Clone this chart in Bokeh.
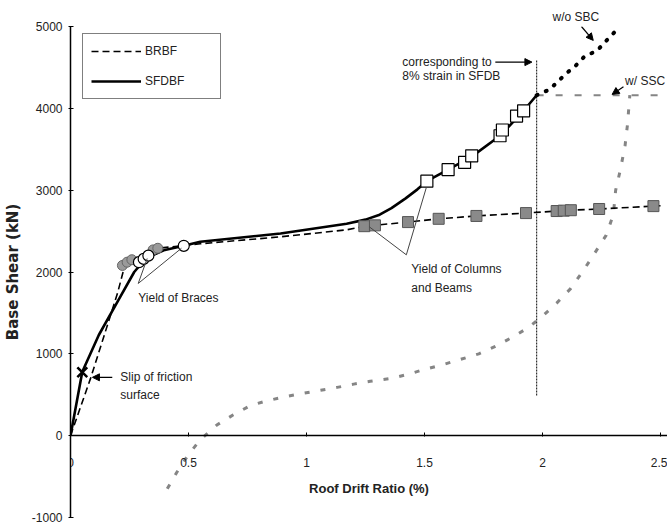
from bokeh.plotting import figure
from bokeh.models import Label, Arrow, NormalHead, FixedTicker, Legend, LegendItem
from bokeh.embed import file_html
from bokeh.resources import INLINE

# ---------------- data ----------------
x_ticks = [0.0, 0.5, 1.0, 1.5, 2.0, 2.5]
x_tick_labels = ["0", "0.5", "1", "1.5", "2", "2.5"]
y_ticks = [-1000, 0, 1000, 2000, 3000, 4000, 5000]
y_tick_labels = ["-1000", "0", "1000", "2000", "3000", "4000", "5000"]

# BRBF pushover (dashed)
brbf_x = [0.0, 0.085, 0.14, 0.20, 0.23, 0.26, 0.37, 0.55, 0.89, 1.17, 1.25, 1.43, 1.56, 1.72, 1.93, 2.06, 2.12, 2.24, 2.47, 2.50]
brbf_y = [0, 700, 1200, 1750, 2080, 2150, 2290, 2345, 2430, 2515, 2560, 2610, 2650, 2685, 2720, 2745, 2755, 2770, 2805, 2810]
# BRBF yield of braces (grey circles) and yield of columns/beams (grey squares)
brbf_brace_x = [0.22, 0.24, 0.26, 0.35, 0.37]
brbf_brace_y = [2080, 2120, 2150, 2270, 2290]
brbf_col_x = [1.245, 1.29, 1.43, 1.56, 1.72, 1.93, 2.06, 2.09, 2.12, 2.24, 2.47]
brbf_col_y = [2560, 2570, 2610, 2650, 2685, 2720, 2745, 2750, 2755, 2770, 2805]

# SFDBF pushover (solid)
sfdbf_x = [0.0, 0.05, 0.12, 0.20, 0.27, 0.32, 0.40, 0.48, 0.55, 0.89, 1.17, 1.25, 1.31, 1.36, 1.42, 1.47, 1.51, 1.60, 1.70, 1.82, 1.92, 1.975]
sfdbf_y = [0, 780, 1230, 1640, 2000, 2170, 2270, 2320, 2370, 2470, 2590, 2640, 2700, 2780, 2900, 3010, 3110, 3250, 3410, 3665, 3970, 4160]
sfdbf_brace_x = [0.29, 0.31, 0.33, 0.48]
sfdbf_brace_y = [2120, 2160, 2200, 2320]
sfdbf_col_x = [1.51, 1.60, 1.67, 1.70, 1.82, 1.83, 1.89, 1.92]
sfdbf_col_y = [3110, 3250, 3340, 3420, 3665, 3735, 3905, 3970]
slip_x = [0.05]
slip_y = [775]

# beyond 8% strain: without SBC (black dots)
wo_sbc_x = [1.975, 2.03, 2.10, 2.14, 2.18, 2.23, 2.27, 2.31]
wo_sbc_y = [4160, 4230, 4425, 4520, 4640, 4700, 4825, 4945]
# with SSC (grey)
w_ssc_cap_x = [1.975, 2.50]
w_ssc_cap_y = [4160, 4160]
w_ssc_x = [0.41, 0.45, 0.50, 0.55, 0.62, 0.69, 0.76, 0.83, 0.90, 0.99, 1.06, 1.13, 1.20, 1.27, 1.36,
           1.43, 1.50, 1.58, 1.65, 1.73, 1.80, 1.87, 1.94, 2.00, 2.06, 2.12, 2.17, 2.22, 2.27, 2.30,
           2.31, 2.33, 2.35, 2.36, 2.365, 2.37]
w_ssc_y = [-650, -450, -230, -50, 130, 255, 365, 425, 470, 520, 555, 590, 630, 665, 700,
           750, 810, 870, 930, 1000, 1090, 1200, 1320, 1460, 1620, 1800, 2005, 2225, 2450, 2700,
           3000, 3250, 3550, 3800, 3980, 4160]

# 8% strain marker line
strain_x = [1.975, 1.975]
strain_y = [490, 4590]

# callout lines
braces_call_x = [0.325, 0.287, 0.47]
braces_call_y = [2165, 1860, 2290]
cols_call_x = [1.267, 1.423, 1.508]
cols_call_y = [2550, 2210, 3035]

FONT = "Liberation Sans"
TXT = "#222222"

p = figure(width=667, height=526, x_range=(0, 2.5296), y_range=(-1000, 5000),
           output_backend="svg", toolbar_location=None,
           min_border_left=68, min_border_right=0, min_border_top=26, min_border_bottom=9)
p.outline_line_color = None
p.xgrid.visible = False
p.ygrid.visible = False
p.background_fill_color = "white"
p.border_fill_color = "white"

# "w/o SBC" sits above the plotting area, so it is carried by the title
p.title.text = "w/o SBC"
p.title.align = "left"
p.title.offset = 482
p.title.standoff = 6
p.title.text_font = FONT
p.title.text_font_size = "12px"
p.title.text_font_style = "normal"
p.title.text_color = TXT

# axes
p.yaxis.ticker = FixedTicker(ticks=y_ticks)
p.yaxis.major_label_overrides = dict(zip(y_ticks, y_tick_labels))
p.yaxis.axis_label = "Base Shear (kN)"
p.xaxis.ticker = FixedTicker(ticks=x_ticks)
p.xaxis.major_label_overrides = dict(zip(x_ticks, x_tick_labels))
p.xaxis.axis_label = "Roof Drift Ratio (%)"
p.xaxis.fixed_location = 0
for ax in (p.xaxis, p.yaxis):
    ax.axis_line_width = 1.5
    ax.axis_line_color = "black"
    ax.major_tick_line_color = "black"
    ax.minor_tick_line_color = None
    ax.major_label_text_font = FONT
    ax.major_label_text_font_size = "12px"
    ax.major_label_text_color = TXT
    ax.axis_label_text_font_style = "bold"
    ax.axis_label_text_color = TXT
p.yaxis.axis_label_text_font = "DejaVu Sans"
p.yaxis.axis_label_text_font_size = "15px"
p.xaxis.axis_label_text_font = FONT
p.xaxis.axis_label_text_font_size = "13px"
p.yaxis.major_tick_in = 3
p.yaxis.major_tick_out = 2
p.yaxis.major_label_standoff = 6
p.yaxis.axis_label_standoff = 7
p.xaxis.major_tick_in = 3
p.xaxis.major_tick_out = 1
p.xaxis.major_label_standoff = 21
p.xaxis.axis_label_standoff = 11

# series
GREY = "#858585"
p.line(w_ssc_x, w_ssc_y, line_color=GREY, line_width=3, line_dash="5 11")
p.line(w_ssc_cap_x, w_ssc_cap_y, line_color=GREY, line_width=2, line_dash="7 12")
p.line(strain_x, strain_y, line_color="#333333", line_width=1.2, line_dash="2 1")
p.line(wo_sbc_x, wo_sbc_y, line_color="black", line_width=4, line_dash="1 9", line_cap="round")

r_brbf = p.line(brbf_x, brbf_y, line_color="black", line_width=1.6, line_dash="7 4")
r_sfdbf = p.line(sfdbf_x, sfdbf_y, line_color="black", line_width=2.6)

p.scatter(brbf_brace_x, brbf_brace_y, marker="circle", size=10, fill_color="#9a9a9a", line_color="#666666", line_width=1)
p.scatter(brbf_col_x, brbf_col_y, marker="square", size=11, fill_color="#8a8a8a", line_color="#555555", line_width=1)
p.scatter(sfdbf_brace_x, sfdbf_brace_y, marker="circle", size=11, fill_color="white", line_color="black", line_width=1.2)
p.scatter(sfdbf_col_x, sfdbf_col_y, marker="square", size=12, fill_color="white", line_color="black", line_width=1.2)
p.scatter(slip_x, slip_y, marker="x", size=14, line_color="black", line_width=2.5)

# callouts
p.line(braces_call_x, braces_call_y, line_color="#444444", line_width=1)
p.line(cols_call_x, cols_call_y, line_color="#444444", line_width=1)

def add_label(x, y, text):
    p.add_layout(Label(x=x, y=y, text=text, text_font=FONT, text_font_size="12px",
                       text_color=TXT, text_baseline="middle", text_align="left"))

add_label(0.287, 1680, "Yield of Braces")
add_label(1.444, 2040, "Yield of Columns")
add_label(1.444, 1800, "and Beams")
add_label(0.211, 713, "Slip of friction")
add_label(0.211, 496, "surface")
add_label(1.406, 4570, "corresponding to")
add_label(1.406, 4400, "8% strain in SFDB")
add_label(2.35, 4330, "w/ SSC")

def add_arrow(x0, y0, x1, y1):
    p.add_layout(Arrow(end=NormalHead(size=7, fill_color="black", line_color="black"),
                       x_start=x0, y_start=y0, x_end=x1, y_end=y1,
                       line_color="black", line_width=1.2))

add_arrow(1.80, 4565, 1.955, 4565)
add_arrow(2.165, 5000, 2.215, 4830)
add_arrow(2.343, 4265, 2.295, 4170)
add_arrow(0.177, 713, 0.093, 713)

legend = Legend(items=[LegendItem(label="BRBF", renderers=[r_brbf]),
                       LegendItem(label="SFDBF", renderers=[r_sfdbf])],
                location=(12, 418), margin=0, padding=8, spacing=12,
                glyph_width=50, glyph_height=18, label_height=18, label_width=67,
                label_standoff=4, border_line_color="black", border_line_width=1.5,
                label_text_font=FONT, label_text_font_size="12px", label_text_color=TXT,
                background_fill_color="white", background_fill_alpha=1)
p.add_layout(legend)

open("out.html", "w").write(file_html(p, INLINE))
